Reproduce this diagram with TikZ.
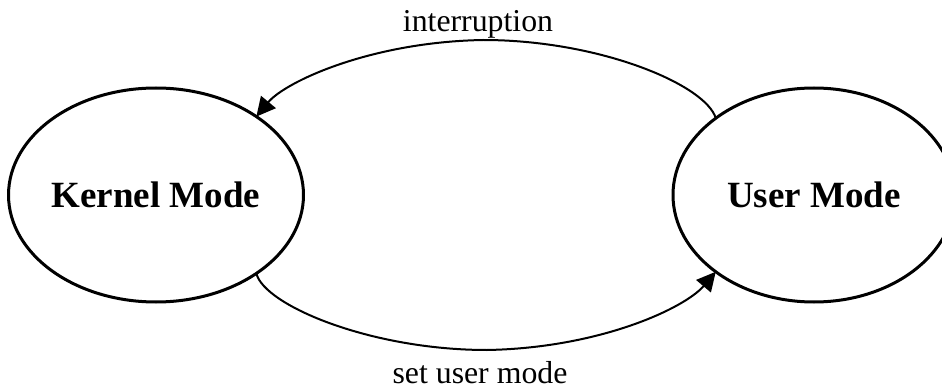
\documentclass[tikz,border=0pt]{standalone}
\usepackage{fontspec}
\setmainfont{Liberation Serif}
\usetikzlibrary{shapes.geometric,arrows.meta}
\begin{document}
\begin{tikzpicture}[x=1pt,y=-1pt,
  state/.style={ellipse, draw, line width=3pt, minimum width=282pt,
    minimum height=214pt, inner sep=0pt, outer sep=0pt,
    font=\fontsize{37}{44}\selectfont\bfseries},
  edge/.style={line width=2pt, -{Triangle[length=19pt,width=19pt]}},
  lbl/.style={font=\fontsize{31.8}{38}\selectfont, anchor=base, inner sep=0pt}]
\clip (0,0) rectangle (942,390);

% the two processor states
\node[state] (kernel) at (156,195) {Kernel Mode};
\node[state] (user)   at (814,195) {User Mode};

% transitions between the states
\draw[edge] (user.142) .. controls (706,85) and (600,40) .. (483,40)
            .. controls (370,42) and (285,82) .. (kernel.38);
\draw[edge] (kernel.322) .. controls (264,305) and (370,350) .. (487,350)
            .. controls (600,348) and (685,308) .. (user.218);

% transition labels
\node[lbl] (lint) at (478,32)  {interruption};
\node[lbl] (lset) at (480,383) {set user mode};
\end{tikzpicture}
\end{document}
